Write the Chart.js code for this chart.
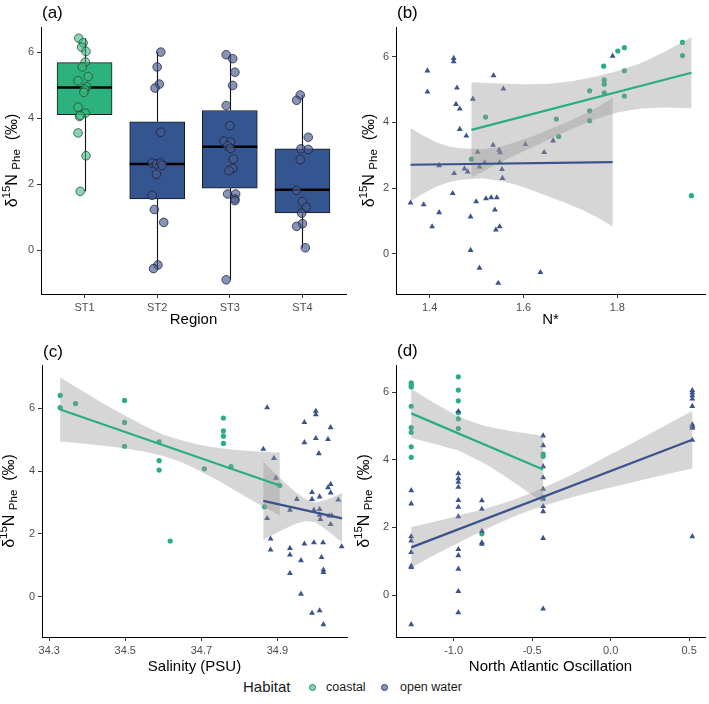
<!DOCTYPE html>
<html>
<head>
<meta charset="utf-8">
<script src="https://cdn.jsdelivr.net/npm/chart.js@4.4.1/dist/chart.umd.min.js"></script>
<style>
  body { margin: 0; background: #fff; }
  #fig { position: relative; width: 709px; height: 704px; font-family: "Liberation Sans", Arial, sans-serif; }
  canvas { position: absolute; }
  .lg { position: absolute; white-space: nowrap; color: #1a1a1a; }
  .dot { position: absolute; width: 5px; height: 5px; border-radius: 50%; }
</style>
</head>
<body>
<div id="fig">
  <canvas id="pa" width="352" height="330" style="left:0;top:0"></canvas>
  <canvas id="pb" width="355" height="330" style="left:354px;top:0"></canvas>
  <canvas id="pc" width="352" height="345" style="left:0;top:330px"></canvas>
  <canvas id="pd" width="355" height="345" style="left:354px;top:330px"></canvas>
  <span class="lg" style="left:243px;top:678px;font-size:15px;line-height:17px">Habitat</span>
  <span class="dot" style="left:309px;top:684px;background:rgba(41,175,127,0.55);border:1px solid #1f8f66"></span>
  <span class="lg" style="left:326px;top:680px;font-size:12.5px;line-height:14px">coastal</span>
  <span class="dot" style="left:381px;top:684px;background:rgba(59,82,139,0.6);border:1px solid #2c3f6c"></span>
  <span class="lg" style="left:400px;top:680px;font-size:12.5px;line-height:14px">open water</span>
</div>
<script>
// ---- (a) boxplot by region ----
var regions = ['ST1', 'ST2', 'ST3', 'ST4'];
var boxQ1 = [4.10, 1.55, 1.88, 1.13];
var boxMedian = [4.93, 2.61, 3.13, 1.83];
var boxQ3 = [5.68, 3.89, 4.23, 3.07];
var whiskerLow = [1.78, -0.56, -0.90, 0.07];
var whiskerHigh = [6.42, 6.00, 5.92, 4.70];

// jittered points: value and horizontal jitter (category units)
var st1Y = [6.42, 6.28, 6.15, 6.02, 5.70, 5.55, 5.26, 5.13, 4.95, 4.88, 4.78, 4.33, 4.15, 4.05, 4.08, 3.55, 2.86, 1.78];
var st1Dx = [-0.08, -0.02, -0.04, 0.02, 0.01, -0.03, 0.05, -0.09, 0.03, 0.0, -0.01, -0.09, 0.01, -0.07, -0.06, -0.09, 0.02, -0.06];
var st2Y = [6.00, 5.55, 5.03, 4.91, 3.57, 2.64, 2.61, 2.64, 2.57, 2.30, 1.66, 1.23, 0.84, -0.45, -0.56];
var st2Dx = [0.05, 0.0, 0.03, -0.03, 0.05, -0.07, -0.01, 0.05, 0.07, -0.01, -0.07, -0.04, 0.09, 0.01, -0.05];
var st3Y = [5.92, 5.80, 5.39, 4.99, 4.38, 3.77, 3.30, 3.28, 3.16, 3.08, 2.76, 2.48, 2.41, 1.70, 1.70, 1.55, 1.50, -0.90];
var st3Dx = [-0.05, 0.04, 0.07, 0.04, -0.05, 0.0, -0.08, 0.01, -0.03, 0.01, 0.05, 0.04, -0.01, -0.03, 0.08, 0.07, 0.07, -0.05];
var st4Y = [4.70, 4.54, 3.42, 3.07, 3.05, 2.74, 1.81, 1.47, 1.30, 1.12, 0.80, 0.72, 0.07];
var st4Dx = [-0.03, -0.08, 0.08, -0.02, 0.08, -0.03, -0.08, 0.0, 0.05, -0.01, 0.0, -0.08, 0.04];

// ---- (b) N* ----
var nCoastalX = [1.939, 1.939, 1.801, 1.815, 1.771, 1.772, 1.772, 1.772, 1.815, 1.815, 1.741, 1.741, 1.741, 1.670, 1.675, 1.519, 1.489, 1.958];
var nCoastalY = [6.43, 6.03, 6.17, 6.27, 5.71, 5.29, 5.16, 4.90, 5.57, 4.80, 4.96, 4.35, 4.05, 4.10, 3.57, 4.16, 2.88, 1.77];
var nOpenX = [1.359, 1.387, 1.395, 1.395, 1.405, 1.420, 1.420, 1.449, 1.452, 1.451, 1.451, 1.458, 1.456, 1.464, 1.464, 1.478,
  1.474, 1.481, 1.487, 1.487, 1.492, 1.499, 1.502, 1.506, 1.506, 1.517, 1.520, 1.531, 1.535, 1.536, 1.539, 1.543, 1.541,
  1.546, 1.549, 1.548, 1.550, 1.549, 1.554, 1.555, 1.557, 1.604, 1.644, 1.636, 1.663, 1.790];
var nOpenY = [1.55, 1.50, 5.57, 4.93, 0.83, 1.26, 2.69, 1.84, 2.45, 5.95, 5.85, 5.05, 4.55, 4.41, 3.79, 3.59,
  2.59, 2.50, 1.13, 0.11, 4.71, 1.59, 3.10, 2.65, -0.43, 2.78, 1.68, 1.71, 3.31, 5.42, 1.34, 1.71, 0.73,
  -0.89, 0.83, 3.16, 3.08, 2.78, 2.57, 2.30, 5.02, 3.33, 3.09, -0.56, 3.44, 6.02];
var nFitCoastalX = [1.489, 1.958], nFitCoastalY = [3.77, 5.51];
var nBandCoastalX = [1.489, 1.52, 1.55, 1.6, 1.65, 1.7, 1.75, 1.8, 1.85, 1.9, 1.958];
var nBandCoastalHi = [5.22, 5.20, 5.18, 5.16, 5.17, 5.24, 5.38, 5.56, 5.80, 6.14, 6.59];
var nBandCoastalLo = [2.32, 2.55, 2.78, 3.12, 3.45, 3.78, 4.08, 4.30, 4.42, 4.45, 4.43];
var nFitOpenX = [1.359, 1.790], nFitOpenY = [2.71, 2.79];
var nBandOpenX = [1.359, 1.385, 1.415, 1.44, 1.464, 1.513, 1.55, 1.584, 1.62, 1.654, 1.69, 1.725, 1.760, 1.790];
var nBandOpenHi = [3.83, 3.60, 3.39, 3.27, 3.21, 3.18, 3.26, 3.40, 3.58, 3.78, 3.99, 4.22, 4.48, 4.75];
var nBandOpenLo = [1.59, 1.83, 2.05, 2.18, 2.25, 2.30, 2.22, 2.10, 1.93, 1.74, 1.55, 1.34, 1.09, 0.83];

// ---- (c) salinity ----
var sCoastalX = [34.329, 34.329, 34.369, 34.498, 34.498, 34.498, 34.589, 34.589, 34.589, 34.618, 34.708, 34.758, 34.758, 34.758, 34.758, 34.778, 34.906, 34.866];
var sCoastalY = [6.41, 6.02, 6.15, 6.25, 5.55, 4.79, 4.93, 4.33, 4.03, 1.77, 4.07, 5.69, 5.28, 5.11, 4.88, 4.14, 3.54, 2.86];
var sOpenX = [34.873, 34.863, 34.891, 34.896, 34.873, 34.882, 34.882, 34.933, 34.933, 34.933, 34.933, 34.951, 34.962, 34.962,
  34.971, 34.971, 34.971, 34.991, 34.991, 34.991, 34.996, 35.001, 35.001, 35.001, 35.009, 35.011, 35.011, 35.011, 35.013,
  35.011, 35.016, 35.020, 35.021, 35.021, 35.021, 35.033, 35.033, 35.036, 35.040, 35.040, 35.040, 35.040, 35.043, 35.060,
  35.069, 34.996];
var sOpenY = [6.02, 4.70, 4.41, 3.78, 2.49, 1.84, 1.49, 2.76, 1.54, 1.33, 0.74, 3.10, 1.15, 0.08,
  5.55, 4.91, 1.68, 3.32, 3.10, -0.53, 1.72, 5.91, 5.80, 5.04, 4.56, 3.18, 2.78, 2.60, 2.46,
  -0.45, 1.25, 1.72, 0.85, 0.77, -0.89, 5.01, 3.47, 2.57, 5.39, 3.58, 3.31, 2.30, 2.58, 3.08,
  1.59, 2.76];
var sFitCoastalX = [34.329, 34.906], sFitCoastalY = [5.96, 3.54];
var sBandCoastalX = [34.329, 34.36, 34.4, 34.45, 34.5, 34.55, 34.6, 34.65, 34.7, 34.75, 34.8, 34.85, 34.906];
var sBandCoastalHi = [6.98, 6.75, 6.46, 6.10, 5.76, 5.44, 5.16, 4.97, 4.82, 4.73, 4.66, 4.62, 4.58];
var sBandCoastalLo = [4.94, 4.91, 4.86, 4.80, 4.72, 4.62, 4.48, 4.27, 3.98, 3.66, 3.30, 2.95, 2.58];
var sFitOpenX = [34.863, 35.070], sFitOpenY = [3.05, 2.49];
var sBandOpenX = [34.863, 34.88, 34.9, 34.925, 34.95, 34.975, 35.0, 35.03, 35.05, 35.07];
var sBandOpenHi = [4.30, 4.08, 3.86, 3.57, 3.31, 3.10, 2.99, 3.09, 3.19, 3.30];
var sBandOpenLo = [1.80, 1.92, 2.04, 2.19, 2.33, 2.41, 2.37, 2.11, 1.92, 1.72];

// ---- (d) North Atlantic Oscillation ----
var naoCoastalX = [-1.27, -1.27, -1.27, -1.27, -1.27, -1.27, -1.27, -1.27, -0.97, -0.97, -0.97, -0.97, -0.97, -0.97, -0.82, -0.43, -0.43, -0.43];
var naoCoastalY = [6.27, 6.20, 6.15, 5.58, 4.95, 4.81, 4.38, 4.07, 6.45, 6.06, 5.74, 5.39, 5.21, 4.92, 1.81, 4.17, 4.10, 2.88];
var naoOpenX = [-1.27, -1.27, -1.27, -1.27, -1.27, -1.27, -1.27, -1.27,
  -0.97, -0.97, -0.97, -0.97, -0.97, -0.97, -0.97, -0.97, -0.97, -0.97, -0.97, -0.97, -0.97,
  -0.82, -0.82, -0.82, -0.82, -0.82,
  -0.43, -0.43, -0.43, -0.43, -0.43, -0.43, -0.43, -0.43, -0.43, -0.43,
  0.52, 0.52, 0.52, 0.52, 0.52, 0.52, 0.52, 0.52, 0.52, 0.52];
var naoOpenY = [3.09, 2.70, 1.73, 1.60, 1.26, 0.86, 0.82, -0.87,
  5.43, 3.59, 3.44, 3.34, 3.19, 2.80, 2.60, 2.32, 1.35, 1.17, 0.77, 0.11, -0.52,
  2.79, 2.54, 1.89, 1.55, 1.51,
  4.71, 4.42, 3.80, 3.47, 3.13, 2.84, 2.62, 2.47, 1.68, -0.41,
  6.05, 5.98, 5.90, 5.80, 5.58, 5.04, 4.99, 4.94, 4.58, 1.73];
var naoFitCoastalX = [-1.27, -0.43], naoFitCoastalY = [5.37, 3.71];
var naoBandCoastalX = [-1.27, -1.18, -1.1, -1.03, -0.97, -0.9, -0.8, -0.7, -0.6, -0.5, -0.43];
var naoBandCoastalHi = [6.10, 5.83, 5.62, 5.43, 5.28, 5.15, 5.00, 4.90, 4.82, 4.75, 4.70];
var naoBandCoastalLo = [4.64, 4.54, 4.44, 4.35, 4.28, 4.12, 3.88, 3.59, 3.28, 2.96, 2.72];
var naoFitOpenX = [-1.27, 0.52], naoFitOpenY = [1.41, 4.59];
var naoBandOpenX = [-1.27, -1.15, -1.0, -0.9, -0.8, -0.7, -0.6, -0.5, -0.4, -0.3, -0.2, -0.1, 0.0, 0.1, 0.2, 0.35, 0.52];
var naoBandOpenHi = [2.01, 2.14, 2.31, 2.43, 2.55, 2.69, 2.85, 3.03, 3.23, 3.44, 3.67, 3.91, 4.16, 4.40, 4.64, 5.02, 5.44];
var naoBandOpenLo = [0.81, 1.12, 1.47, 1.71, 1.93, 2.15, 2.35, 2.53, 2.68, 2.82, 2.95, 3.07, 3.18, 3.29, 3.40, 3.56, 3.74];

var yTicks = [0, 2, 4, 6];

var GREEN = '#29AF7F', BLUE = '#3B528B', BAND = 'rgba(153,153,153,0.4)';
Chart.defaults.font.family = '"Liberation Sans", Arial, Helvetica, sans-serif';
Chart.defaults.animation = false;

function zip(xs, ys) {
  return xs.map(function (x, i) { return { x: x, y: ys[i] }; });
}

function axis(min, max, ticks, size, isX, fmt) {
  return {
    type: 'linear', min: min, max: max, offset: false,
    grid: { display: true, offset: false, drawOnChartArea: false, drawTicks: true, tickLength: 4, color: '#333', tickWidth: 1 },
    border: { display: true, color: '#000', width: 1 },
    ticks: { color: '#4d4d4d', font: { size: 11 }, padding: 3, maxRotation: 0, autoSkip: false, callback: fmt || function (v) { return v; } },
    afterBuildTicks: function (s) { s.ticks = ticks.map(function (v) { return { value: v }; }); },
    afterFit: function (s) { if (isX) { s.height = size; } else { s.width = size; } }
  };
}

// y title with superscript and subscript, drawn rotated
function drawYTitle(ctx, x, y) {
  var parts = [['δ', 16, 0], ['15', 11.5, -6], ['N', 16, 0], [' ', 16, 0], ['Phe', 11.5, 4], ['  (‰)', 16, 0]];
  var total = 0;
  parts.forEach(function (p) { ctx.font = p[1] + 'px "Liberation Sans", Arial'; total += ctx.measureText(p[0]).width; });
  ctx.save();
  ctx.translate(x, y);
  ctx.rotate(-Math.PI / 2);
  ctx.textBaseline = 'middle';
  ctx.textAlign = 'left';
  ctx.fillStyle = '#000';
  var cx = -total / 2;
  parts.forEach(function (p) {
    ctx.font = p[1] + 'px "Liberation Sans", Arial';
    ctx.fillText(p[0], cx, p[2]);
    cx += ctx.measureText(p[0]).width;
  });
  ctx.restore();
}

var panelText = {
  id: 'panelText',
  afterDraw: function (chart, args, o) {
    var ctx = chart.ctx, a = chart.chartArea;
    ctx.save();
    ctx.fillStyle = '#000';
    ctx.textBaseline = 'middle';
    ctx.textAlign = 'left';
    ctx.font = '17px "Liberation Sans", Arial';
    ctx.fillText(o.letter, a.left + 1, o.letterY);
    ctx.textAlign = 'center';
    ctx.font = '15px "Liberation Sans", Arial';
    ctx.fillText(o.xTitle, (a.left + a.right) / 2, o.xTitleY);
    ctx.restore();
    drawYTitle(ctx, o.yTitleX, (a.top + a.bottom) / 2);
  }
};

// confidence bands, drawn through the scales right after the point layers
var bands = {
  id: 'bands',
  afterDatasetDraw: function (chart, args, o) {
    if (args.index !== 1 || !o.list) return;
    var ctx = chart.ctx, xs = chart.scales.x, ys = chart.scales.y, a = chart.chartArea;
    ctx.save();
    ctx.beginPath();
    ctx.rect(a.left, a.top, a.right - a.left, a.bottom - a.top);
    ctx.clip();
    o.list.forEach(function (b) {
      ctx.beginPath();
      b.x.forEach(function (x, i) {
        var px = xs.getPixelForValue(x), py = ys.getPixelForValue(b.hi[i]);
        if (i === 0) ctx.moveTo(px, py); else ctx.lineTo(px, py);
      });
      for (var i = b.x.length - 1; i >= 0; i--) {
        ctx.lineTo(xs.getPixelForValue(b.x[i]), ys.getPixelForValue(b.lo[i]));
      }
      ctx.closePath();
      ctx.fillStyle = BAND;
      ctx.fill();
    });
    ctx.restore();
  }
};

// whiskers behind the boxes, medians right after the boxes
var boxExtras = {
  id: 'boxExtras',
  beforeDatasetsDraw: function (chart) {
    var ctx = chart.ctx, xs = chart.scales.x, ys = chart.scales.y;
    ctx.save();
    ctx.strokeStyle = '#111';
    ctx.lineWidth = 1.1;
    regions.forEach(function (r, i) {
      var px = Math.round(xs.getPixelForValue(i + 1)) + 0.5;
      ctx.beginPath();
      ctx.moveTo(px, ys.getPixelForValue(whiskerLow[i]));
      ctx.lineTo(px, ys.getPixelForValue(boxQ1[i]));
      ctx.moveTo(px, ys.getPixelForValue(boxQ3[i]));
      ctx.lineTo(px, ys.getPixelForValue(whiskerHigh[i]));
      ctx.stroke();
    });
    ctx.restore();
  },
  afterDatasetDraw: function (chart, args) {
    if (args.index !== 0) return;
    var ctx = chart.ctx, ys = chart.scales.y;
    ctx.save();
    ctx.strokeStyle = '#000';
    ctx.lineWidth = 2.5;
    args.meta.data.forEach(function (bar, i) {
      var py = ys.getPixelForValue(boxMedian[i]);
      ctx.beginPath();
      ctx.moveTo(bar.x - bar.width / 2, py);
      ctx.lineTo(bar.x + bar.width / 2, py);
      ctx.stroke();
    });
    ctx.restore();
  }
};

function jitter(ys, dxs, cat) {
  return ys.map(function (y, i) { return { x: cat + dxs[i], y: y }; });
}

// (a)
new Chart(document.getElementById('pa'), {
  type: 'scatter',
  data: {
    datasets: [
      {
        type: 'bar', order: 2,
        data: regions.map(function (r, i) { return { x: i + 1, y: [boxQ1[i], boxQ3[i]] }; }),
        backgroundColor: ['#2DB17E', '#34558F', '#34558F', '#34558F'],
        borderColor: '#1a1a1a', borderWidth: 1, borderSkipped: false, barThickness: 55
      },
      {
        order: 1, data: jitter(st1Y, st1Dx, 1),
        pointRadius: 4.3, backgroundColor: 'rgba(58,185,125,0.6)', borderColor: 'rgba(35,70,50,0.75)', borderWidth: 1
      },
      {
        order: 1, data: jitter(st2Y, st2Dx, 2).concat(jitter(st3Y, st3Dx, 3), jitter(st4Y, st4Dx, 4)),
        pointRadius: 4.3, backgroundColor: 'rgba(70,90,145,0.65)', borderColor: 'rgba(25,30,50,0.75)', borderWidth: 1
      }
    ]
  },
  options: {
    responsive: false,
    layout: { padding: { top: 27, right: 6, left: 0, bottom: 0 } },
    plugins: {
      legend: { display: false }, tooltip: { enabled: false },
      panelText: { letter: '(a)', letterY: 13, xTitle: 'Region', xTitleY: 320, yTitleX: 13 }
    },
    scales: {
      x: axis(0.4, 4.6, [1, 2, 3, 4], 36, true, function (v, i) { return regions[i]; }),
      y: axis(-1.33, 6.76, yTicks, 41, false)
    }
  },
  plugins: [boxExtras, panelText]
});

function fitChart(id, cfg) {
  function line(xs, ys, color, order) {
    return { type: 'line', data: zip(xs, ys), borderColor: color, borderWidth: 2.2, pointRadius: 0, fill: false, order: order };
  }
  var ds = [
    { data: zip(cfg.cx, cfg.cy), backgroundColor: GREEN, pointRadius: 2.6, borderWidth: 0, order: 6 },
    { data: zip(cfg.ox, cfg.oy), backgroundColor: BLUE, pointRadius: 3.4, pointStyle: 'triangle', borderWidth: 0, order: 5 },
    line(cfg.cfx, cfg.cfy, GREEN, 4),
    line(cfg.ofx, cfg.ofy, BLUE, 3)
  ];
  new Chart(document.getElementById(id), {
    type: 'scatter',
    data: { datasets: ds },
    options: {
      responsive: false,
      layout: { padding: { top: cfg.top, right: cfg.right, left: 0, bottom: 0 } },
      plugins: {
        legend: { display: false }, tooltip: { enabled: false },
        panelText: cfg.text,
        bands: { list: cfg.bands }
      },
      scales: {
        x: axis(cfg.xmin, cfg.xmax, cfg.xticks, cfg.xh, true, cfg.xfmt),
        y: axis(cfg.ymin, cfg.ymax, yTicks, 42, false)
      }
    },
    plugins: [bands, panelText]
  });
}

function oneDec(v) { return v.toFixed(1); }

// (b)
fitChart('pb', {
  cx: nCoastalX, cy: nCoastalY, ox: nOpenX, oy: nOpenY,
  cfx: nFitCoastalX, cfy: nFitCoastalY, ofx: nFitOpenX, ofy: nFitOpenY,
  bands: [{ x: nBandCoastalX, hi: nBandCoastalHi, lo: nBandCoastalLo }, { x: nBandOpenX, hi: nBandOpenHi, lo: nBandOpenLo }],
  xmin: 1.328, xmax: 1.987, xticks: [1.4, 1.6, 1.8], xfmt: oneDec,
  ymin: -1.22, ymax: 6.90, top: 27, right: 2, xh: 36,
  text: { letter: '(b)', letterY: 13, xTitle: 'N*', xTitleY: 320, yTitleX: 16 }
});

// (c)
fitChart('pc', {
  cx: sCoastalX, cy: sCoastalY, ox: sOpenX, oy: sOpenY,
  cfx: sFitCoastalX, cfy: sFitCoastalY, ofx: sFitOpenX, ofy: sFitOpenY,
  bands: [{ x: sBandCoastalX, hi: sBandCoastalHi, lo: sBandCoastalLo }, { x: sBandOpenX, hi: sBandOpenHi, lo: sBandOpenLo }],
  xmin: 34.281, xmax: 35.083, xticks: [34.3, 34.5, 34.7, 34.9], xfmt: oneDec,
  ymin: -1.29, ymax: 7.38, top: 35, right: 5, xh: 38,
  text: { letter: '(c)', letterY: 22, xTitle: 'Salinity (PSU)', xTitleY: 337, yTitleX: 10 }
});

// (d)
fitChart('pd', {
  cx: naoCoastalX, cy: naoCoastalY, ox: naoOpenX, oy: naoOpenY,
  cfx: naoFitCoastalX, cfy: naoFitCoastalY, ofx: naoFitOpenX, ofy: naoFitOpenY,
  bands: [{ x: naoBandCoastalX, hi: naoBandCoastalHi, lo: naoBandCoastalLo }, { x: naoBandOpenX, hi: naoBandOpenHi, lo: naoBandOpenLo }],
  xmin: -1.367, xmax: 0.601, xticks: [-1.0, -0.5, 0.0, 0.5], xfmt: oneDec,
  ymin: -1.24, ymax: 6.80, top: 35, right: 2, xh: 38,
  text: { letter: '(d)', letterY: 21, xTitle: 'North Atlantic Oscillation', xTitleY: 337, yTitleX: 11 }
});
</script>
</body>
</html>
